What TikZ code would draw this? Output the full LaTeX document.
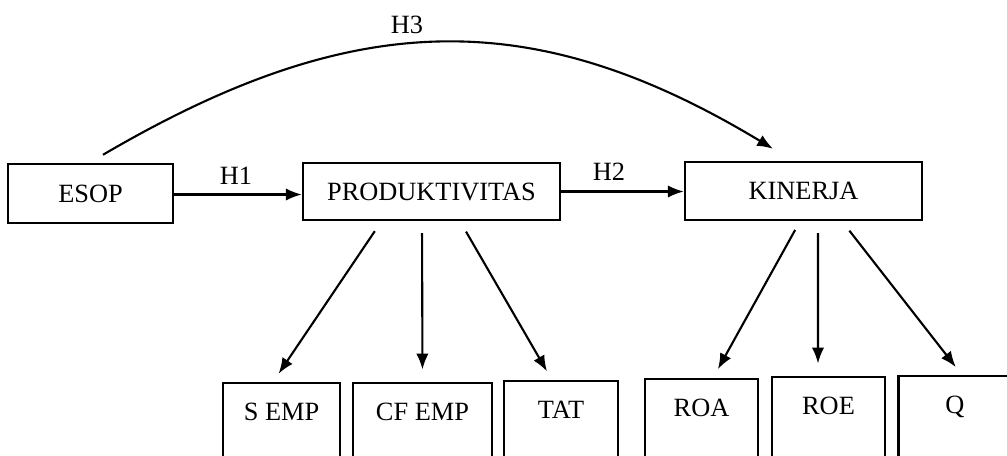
\documentclass[tikz,border=0pt]{standalone}
\usepackage{fontspec}
\setmainfont{Liberation Serif}
\usetikzlibrary{arrows.meta,positioning}

\begin{document}
\begin{tikzpicture}[x=0.02cm,y=-0.02cm,
  box/.style={draw,line width=1.4pt,inner sep=0pt,font=\fontsize{15}{18}\selectfont},
  subbox/.style={box,anchor=north,text height=0.74cm,text depth=2cm},
  arr/.style={line width=1.2pt,-{Latex[length=9pt,width=7pt]}},
  lab/.style={font=\fontsize{15}{18}\selectfont}]
  \useasboundingbox (0,0) rectangle (1007,456);
  \clip (0,0) rectangle (1007,456);
  \node[box,minimum width=3.3cm,minimum height=1.18cm] (esop) at (90.5,193.5) {ESOP};
  \node[box,minimum width=5.14cm,minimum height=1.14cm] (prod) at (431.5,191.5) {PRODUKTIVITAS};
  \node[box,minimum width=4.74cm,minimum height=1.16cm] (kin) at (803.5,191) {KINERJA};
  \foreach \x/\y/\w/\n/\lab in {281.5/382/2.34/semp/S EMP,422.5/382/2.78/cfemp/CF EMP,561/380/2.28/tat/TAT,
    701.5/378/2.26/roa/ROA,828.5/376/2.26/roe/ROE,955/375/2.26/q/Q}{
    \node[subbox,minimum width=\w cm] (\n) at (\x,\y) {\lab};
  }
  \draw[arr] ([yshift=-0.02cm]esop.east) -- ([yshift=-0.02cm]esop.east -| prod.west);
  \draw[arr] (prod.east) -- (prod.east -| kin.west);
  \node[lab] (h1) at (236,176) {H1};
  \node[lab] (h2) at (609,172) {H2};
  \node[lab] (h3) at (407,25) {H3};
  \draw[arr] ([xshift=0.25cm,yshift=0.16cm]esop.north) .. controls (350,10) and (530,2) .. ([xshift=-0.61cm,yshift=0.24cm]kin.north);
  \draw[arr,shorten <=0.24cm,shorten >=0.2cm] ([xshift=-1cm]prod.south) -- ([xshift=-0.17cm]semp.north);
  \draw[arr,shorten <=0.24cm,shorten >=0.25cm] ([xshift=-0.19cm]prod.south) -- (cfemp.north);
  \draw[arr,shorten <=0.24cm,shorten >=0.2cm] ([xshift=0.57cm]prod.south) -- ([xshift=-0.18cm]tat.north);
  \draw[arr,shorten <=0.2cm,shorten >=0.2cm] ([xshift=-0.07cm]kin.south) -- ([xshift=0.23cm]roa.north);
  \draw[arr,shorten <=0.24cm,shorten >=0.25cm] ([xshift=0.29cm]kin.south) -- ([xshift=-0.21cm]roe.north);
  \draw[arr,shorten <=0.24cm,shorten >=0.2cm] ([xshift=0.77cm]kin.south) -- ([xshift=0.14cm]q.north);
\end{tikzpicture}
\end{document}
